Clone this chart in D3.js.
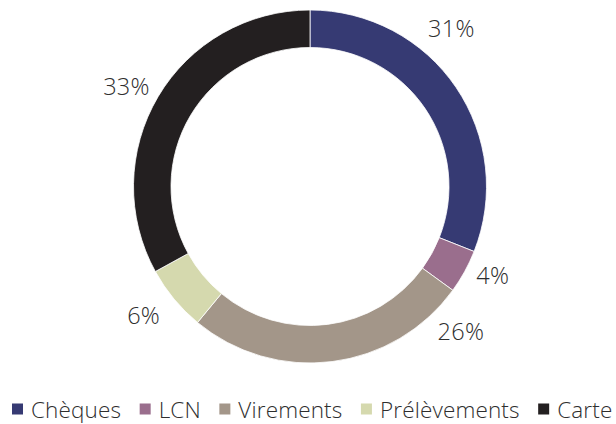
<!DOCTYPE html>
<html><head><meta charset="utf-8">
<script src="https://cdn.jsdelivr.net/npm/d3@7"></script>
<style>body{margin:0;background:#fff}svg{display:block}</style>
</head><body>
<script>
const categories = ["Chèques", "LCN", "Virements", "Prélèvements", "Carte"];
const values = [31, 4, 26, 6, 33];
const labels = ["31%", "4%", "26%", "6%", "33%"];
const colors = ["#363a73", "#9a6e8d", "#a39689", "#d5d9ae", "#231f20"];
// label placement tweaks (angle shift in degrees, radius)
const labelShift = [-14, -3, -39, 2, -2];
const labelRadius = [212, 203, 209, 210, 209];

const W = 616, H = 424, cx = 310, cy = 186.5, R = 176.5, r = 139;
const svg = d3.select("body").append("svg").attr("width", W).attr("height", H);
const g = svg.append("g").attr("transform", `translate(${cx},${cy})`);
const pie = d3.pie().sort(null).value(d => d)(values);
const arc = d3.arc().innerRadius(r).outerRadius(R);
g.selectAll("path").data(pie).join("path")
  .attr("d", arc).attr("fill", (d, i) => colors[i])
  .attr("stroke", "#fff").attr("stroke-width", 0.8);

g.selectAll("text.lbl").data(pie).join("text").attr("class", "lbl")
  .attr("x", (d, i) => { const a = (d.startAngle + d.endAngle) / 2 + labelShift[i] * Math.PI / 180; return labelRadius[i] * Math.sin(a); })
  .attr("y", (d, i) => { const a = (d.startAngle + d.endAngle) / 2 + labelShift[i] * Math.PI / 180; return -labelRadius[i] * Math.cos(a); })
  .attr("text-anchor", "middle").attr("dominant-baseline", "central")
  .attr("font-family", "Open Sans").attr("font-size", 23.5).attr("font-weight", 300)
  .attr("letter-spacing", 0.3)
  .attr("fill", "#2e2e2e").text((d, i) => labels[i]);

const leg = svg.append("g").attr("transform", "translate(12,409)");
let x = 0;
const gaps = 19, after = 18.5;
categories.forEach((c, i) => {
  leg.append("rect").attr("x", x).attr("y", -5.5).attr("width", 11).attr("height", 11).attr("fill", colors[i]);
  const t = leg.append("text").attr("x", x + gaps).attr("y", 0).attr("dominant-baseline", "central")
    .attr("font-family", "Open Sans").attr("font-size", 22.5).attr("font-weight", 300)
    .attr("letter-spacing", 0.15)
    .attr("fill", "#2e2e2e").text(c);
  x += gaps + t.node().getComputedTextLength() + after;
});
</script>
</body></html>
